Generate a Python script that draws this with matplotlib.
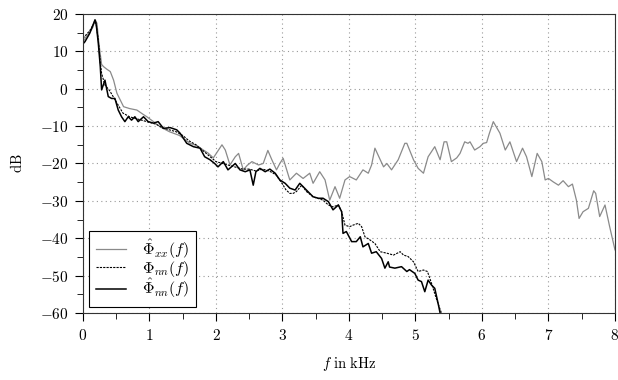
import matplotlib
matplotlib.use('Agg')
import matplotlib.pyplot as plt
from matplotlib.ticker import MultipleLocator, FuncFormatter

plt.rcParams['mathtext.fontset'] = 'cm'
plt.rcParams['font.family'] = 'serif'
plt.rcParams['font.serif'] = ['DejaVu Serif']

# Phi_xx hat (gray)
f_xx = [0.0, 0.05, 0.1, 0.15, 0.18, 0.21, 0.24, 0.28, 0.31, 0.36, 0.41, 0.46, 0.51, 0.56, 0.61,
        0.7, 0.81, 0.9, 0.96, 1.06, 1.16, 1.3, 1.45, 1.61, 1.71, 1.81, 1.88, 1.96, 2.09, 2.14,
        2.21, 2.29, 2.34, 2.41, 2.47, 2.54, 2.64, 2.71, 2.78, 2.84, 2.91, 2.96, 3.01, 3.11,
        3.21, 3.31, 3.41, 3.46, 3.56, 3.64, 3.71, 3.79, 3.86, 3.94, 4.01, 4.11, 4.21, 4.29,
        4.34, 4.39, 4.47, 4.52, 4.57, 4.64, 4.74, 4.84, 4.87, 4.97, 5.04, 5.12, 5.19, 5.29,
        5.37, 5.43, 5.47, 5.54, 5.62, 5.67, 5.74, 5.79, 5.82, 5.89, 5.97, 6.02, 6.07, 6.11,
        6.17, 6.27, 6.35, 6.42, 6.52, 6.61, 6.67, 6.75, 6.83, 6.9, 6.95, 7.0, 7.07, 7.15,
        7.22, 7.3, 7.36, 7.42, 7.46, 7.52, 7.6, 7.68, 7.71, 7.77, 7.85, 7.92, 8.0]
p_xx = [12.5, 14.0, 15.0, 16.5, 18.5, 17.5, 12.0, 6.5, 5.9, 5.2, 4.6, 2.3, -1.2, -3.0, -4.8,
        -5.3, -5.7, -6.8, -7.5, -8.8, -10.2, -11.5, -12.5, -14.6, -15.2, -16.4, -17.2, -18.5, -15.0, -16.4,
        -20.4, -18.2, -17.3, -21.7, -20.5, -19.5, -20.4, -20.0, -16.5, -19.0, -21.7, -20.0, -18.6, -24.4,
        -22.6, -24.0, -22.6, -25.3, -22.2, -24.4, -29.8, -26.2, -29.3, -24.4, -23.5, -24.4, -21.7, -22.6,
        -20.4, -15.9, -19.0, -20.9, -20.0, -21.7, -19.0, -14.6, -14.6, -19.0, -21.3, -22.6, -18.2, -15.5,
        -19.0, -14.2, -14.2, -19.5, -18.5, -17.3, -14.2, -14.6, -14.2, -16.4, -15.5, -14.6, -14.4, -12.0,
        -8.8, -11.9, -16.4, -14.2, -19.5, -15.9, -18.2, -23.5, -17.3, -19.5, -24.4, -24.0, -24.9, -25.8,
        -24.6, -26.2, -25.5, -29.8, -34.7, -32.9, -32.0, -27.3, -28.0, -34.2, -31.1, -36.9, -43.1]

# Phi_nn (dashed)
f_nn = [0.0, 0.05, 0.1, 0.15, 0.19, 0.23, 0.26, 0.28, 0.33, 0.4, 0.45, 0.5, 0.55, 0.6, 0.7,
        0.8, 0.9, 1.0, 1.1, 1.2, 1.3, 1.4, 1.5, 1.6, 1.7, 1.8, 1.9, 2.0, 2.1, 2.2, 2.3, 2.4,
        2.5, 2.6, 2.7, 2.8, 2.9, 3.0, 3.05, 3.11, 3.16, 3.21, 3.29, 3.36, 3.46, 3.61, 3.69,
        3.76, 3.84, 3.89, 3.94, 4.01, 4.06, 4.14, 4.19, 4.24, 4.32, 4.39, 4.47, 4.57, 4.67,
        4.77, 4.82, 4.89, 4.97, 5.04, 5.12, 5.18, 5.24, 5.32, 5.39]
p_nn = [13.5, 14.5, 15.5, 17.0, 18.3, 13.0, 7.0, 4.1, 1.0, -0.5, -2.0, -3.5, -5.0, -6.5, -7.5,
        -8.0, -8.5, -9.0, -9.5, -10.5, -11.0, -11.5, -12.5, -14.0, -15.0, -16.5, -18.0, -19.5, -20.0, -20.5, -21.0, -21.5,
        -21.5, -22.0, -21.5, -22.0, -23.0, -25.5, -27.0, -28.0, -28.0, -27.5, -25.8, -27.5, -28.9, -29.8, -31.1,
        -31.6, -31.1, -32.9, -36.5, -36.9, -36.5, -36.0, -36.9, -39.6, -40.5, -41.4, -43.6, -44.0, -44.5,
        -43.6, -44.5, -44.9, -46.3, -48.9, -48.5, -48.9, -52.0, -56.5, -60.0]

# Phi_nn hat (black)
f_hn = [0.0, 0.03, 0.1, 0.18, 0.2, 0.23, 0.26, 0.28, 0.33, 0.38, 0.43, 0.48, 0.53, 0.58, 0.63,
        0.68, 0.73, 0.78, 0.83, 0.91, 0.98, 1.06, 1.13, 1.21, 1.31, 1.41, 1.46, 1.56, 1.66, 1.76,
        1.83, 1.91, 1.98, 2.03, 2.11, 2.18, 2.29, 2.36, 2.44, 2.51, 2.56, 2.6, 2.66, 2.74, 2.81,
        2.89, 2.96, 3.04, 3.11, 3.19, 3.26, 3.36, 3.46, 3.54, 3.61, 3.69, 3.76, 3.84, 3.89, 3.91,
        3.96, 4.04, 4.11, 4.17, 4.21, 4.29, 4.34, 4.41, 4.49, 4.54, 4.59, 4.61, 4.69, 4.79, 4.87,
        4.91, 4.99, 5.04, 5.09, 5.14, 5.19, 5.24, 5.29, 5.34, 5.37]
p_hn = [12.0, 12.6, 14.8, 18.4, 17.0, 12.2, 5.9, -0.3, 2.3, -2.1, -2.6, -2.6, -5.7, -7.5, -8.8,
        -7.5, -8.4, -7.5, -8.8, -7.5, -8.8, -9.2, -8.8, -10.6, -10.4, -11.0, -11.9, -14.6, -15.5, -15.9,
        -18.2, -19.0, -20.0, -20.9, -19.5, -21.7, -20.0, -21.7, -22.2, -21.7, -25.8, -22.2, -21.3, -22.2, -21.5,
        -22.6, -24.4, -25.3, -26.6, -27.1, -25.3, -27.1, -28.9, -29.3, -29.3, -30.2, -32.4, -31.1, -32.9, -38.7,
        -38.2, -40.9, -40.9, -39.6, -42.3, -41.4, -44.0, -43.6, -45.4, -48.0, -46.3, -47.7, -48.0, -47.6, -48.9,
        -48.4, -49.4, -51.2, -51.6, -54.3, -51.2, -52.5, -53.4, -57.4, -60.0]

fig = plt.figure(figsize=(6.18, 3.8), dpi=100)
ax = fig.add_axes([0.1343, 0.1763, 0.8608, 0.7869])

ax.plot(f_xx, p_xx, color='#8a8a8a', lw=0.9, label=r'$\hat{\Phi}_{xx}(f)$')
ax.plot(f_nn, p_nn, color='black', lw=0.8, ls=(0, (2, 1)), label=r'$\Phi_{nn}(f)$')
ax.plot(f_hn, p_hn, color='black', lw=1.1, label=r'$\hat{\Phi}_{nn}(f)$')

ax.set_xlim(0, 8)
ax.set_ylim(-60, 20)
ax.xaxis.set_major_locator(MultipleLocator(1))
ax.xaxis.set_minor_locator(MultipleLocator(0.5))
ax.yaxis.set_major_locator(MultipleLocator(10))
ax.yaxis.set_minor_locator(MultipleLocator(5))
fmt = FuncFormatter(lambda v, p: r'$%d$' % round(v))
ax.xaxis.set_major_formatter(fmt)
ax.yaxis.set_major_formatter(fmt)
ax.tick_params(which='both', direction='out', labelsize=11)
ax.tick_params(which='major', length=5.5, pad=5)
ax.tick_params(which='minor', length=4.5)
ax.grid(which='major', linestyle=(0, (1, 3)), color='#999999', lw=0.8)
for s in ax.spines.values():
    s.set_color('#333333')

ax.set_xlabel(r'$f\ \mathrm{in\ kHz}$', fontsize=10.5, labelpad=9)
ax.set_ylabel(r'$\mathrm{dB}$', fontsize=10.5, labelpad=11)

leg = ax.legend(loc='lower left', fontsize=11.5, fancybox=False, framealpha=1,
                edgecolor='black', handlelength=1.9, borderaxespad=0.4,
                labelspacing=-0.12, handletextpad=1.0, borderpad=0.4)
leg.get_frame().set_linewidth(0.8)

plt.savefig('out.png', dpi=100, facecolor='white')
plt.close()
